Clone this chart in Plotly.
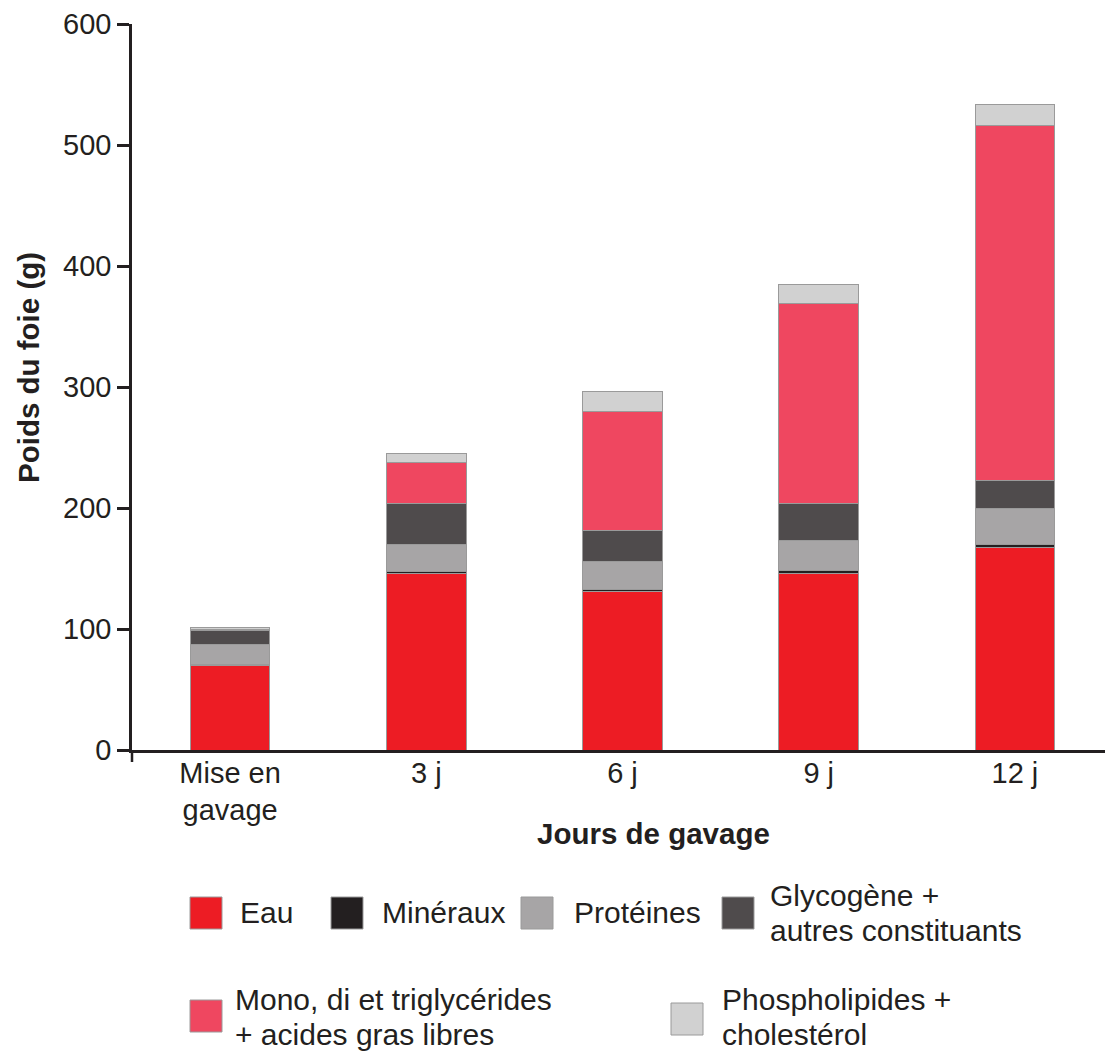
import plotly.graph_objects as go

categories = ["Mise en<br>gavage", "3 j", "6 j", "9 j", "12 j"]

eau = [69.5, 145.5, 131, 146, 167.5]
mineraux = [1.5, 2, 1.5, 2.5, 2.5]
proteines = [16, 22.5, 23.5, 25, 29.5]
glycogene = [11.5, 34, 25.5, 30.5, 23.5]
mono_tri = [1, 34, 98.5, 165, 293]
phospho = [1.5, 7, 16, 16, 17.5]

series_names = [
    "Eau",
    "Minéraux",
    "Protéines",
    "Glycogène +<br>autres constituants",
    "Mono, di et triglycérides<br>+ acides gras libres",
    "Phospholipides +<br>cholestérol",
]
series_values = [eau, mineraux, proteines, glycogene, mono_tri, phospho]
series_colors = ["#ED1C24", "#231F20", "#A7A5A6", "#4F4B4C", "#EF4760", "#D1D1D1"]

y_ticks = [0, 100, 200, 300, 400, 500, 600]
x_title = "Jours de gavage"
y_title = "Poids du foie (g)"

# page body has an 8px margin: work in page pixels, shift by OFF
OFF = 8
W, H = 1113 - OFF, 1051 - OFF
PL, PR, PT, PB = 132, 1113, 24, 750
FONT = "Liberation Sans, Arial, sans-serif"
INK = "#231F20"


def px(x):
    return (x - PL) / (PR - PL)


def py(y):
    return (PB - y) / (PB - PT)


fig = go.Figure()
for name, vals, col in zip(series_names, series_values, series_colors):
    fig.add_trace(go.Bar(
        x=categories, y=vals, name=name,
        marker=dict(color=col, line=dict(color="#9a9a9a", width=1)),
        width=0.405, showlegend=False,
    ))

shapes = []
annotations = []

# y-axis line extension below the x axis
shapes.append(dict(type="line", xref="paper", yref="paper",
                   x0=0, x1=0, y0=0, y1=py(762),
                   line=dict(color=INK, width=2.5)))

# manual legend: (square left, square top, text left, line center ys) in page px
legend_pos = [
    (190, 897, 238, [913]),
    (331, 897, 380, [913]),
    (521, 897, 572, [913]),
    (722, 897, 768, [895, 930]),
    (190, 1000, 233, [999, 1034]),
    (671, 1003, 720, [999, 1034]),
]
SQ = 32
for (sx, sy, tx, tys), name, col in zip(legend_pos, series_names, series_colors):
    shapes.append(dict(type="rect", xref="paper", yref="paper",
                       x0=px(sx), x1=px(sx + SQ), y0=py(sy), y1=py(sy + SQ),
                       fillcolor=col, line=dict(color="#9a9a9a", width=1)))
    for line_text, ty in zip(name.split("<br>"), tys):
        annotations.append(dict(xref="paper", yref="paper", x=px(tx), y=py(ty),
                                xanchor="left", yanchor="middle", align="left",
                                text=line_text, showarrow=False,
                                font=dict(family=FONT, size=30, color=INK)))

annotations.append(dict(xref="paper", yref="paper", x=px(653), y=py(833),
                        xanchor="center", yanchor="middle",
                        text="<b>" + x_title + "</b>", showarrow=False,
                        font=dict(family=FONT, size=29.5, color=INK)))
annotations.append(dict(xref="paper", yref="paper", x=px(28), y=py(368),
                        xanchor="center", yanchor="middle", textangle=-90,
                        text="<b>" + y_title + "</b>", showarrow=False,
                        font=dict(family=FONT, size=29.5, color=INK)))

fig.update_layout(
    width=W, height=H,
    margin=dict(l=PL - OFF, r=(1113 - PR), t=PT - OFF, b=1051 - PB, pad=0),
    barmode="stack",
    plot_bgcolor="white", paper_bgcolor="white",
    font=dict(family=FONT, size=29, color=INK),
    shapes=shapes, annotations=annotations,
    xaxis=dict(
        range=[-0.5, 4.5], showline=True, linecolor=INK, linewidth=2.5,
        ticks="", showgrid=False, zeroline=False,
        tickfont=dict(family=FONT, size=29, color=INK),
        ticklabelstandoff=-5,
    ),
    yaxis=dict(
        range=[0, 600], tickvals=y_ticks, showline=True, linecolor=INK,
        linewidth=2.5, ticks="outside", ticklen=12, tickwidth=2.5,
        tickcolor=INK, showgrid=False, zeroline=False,
        tickfont=dict(family=FONT, size=29, color=INK),
    ),
)

fig.write_html("out.html")
